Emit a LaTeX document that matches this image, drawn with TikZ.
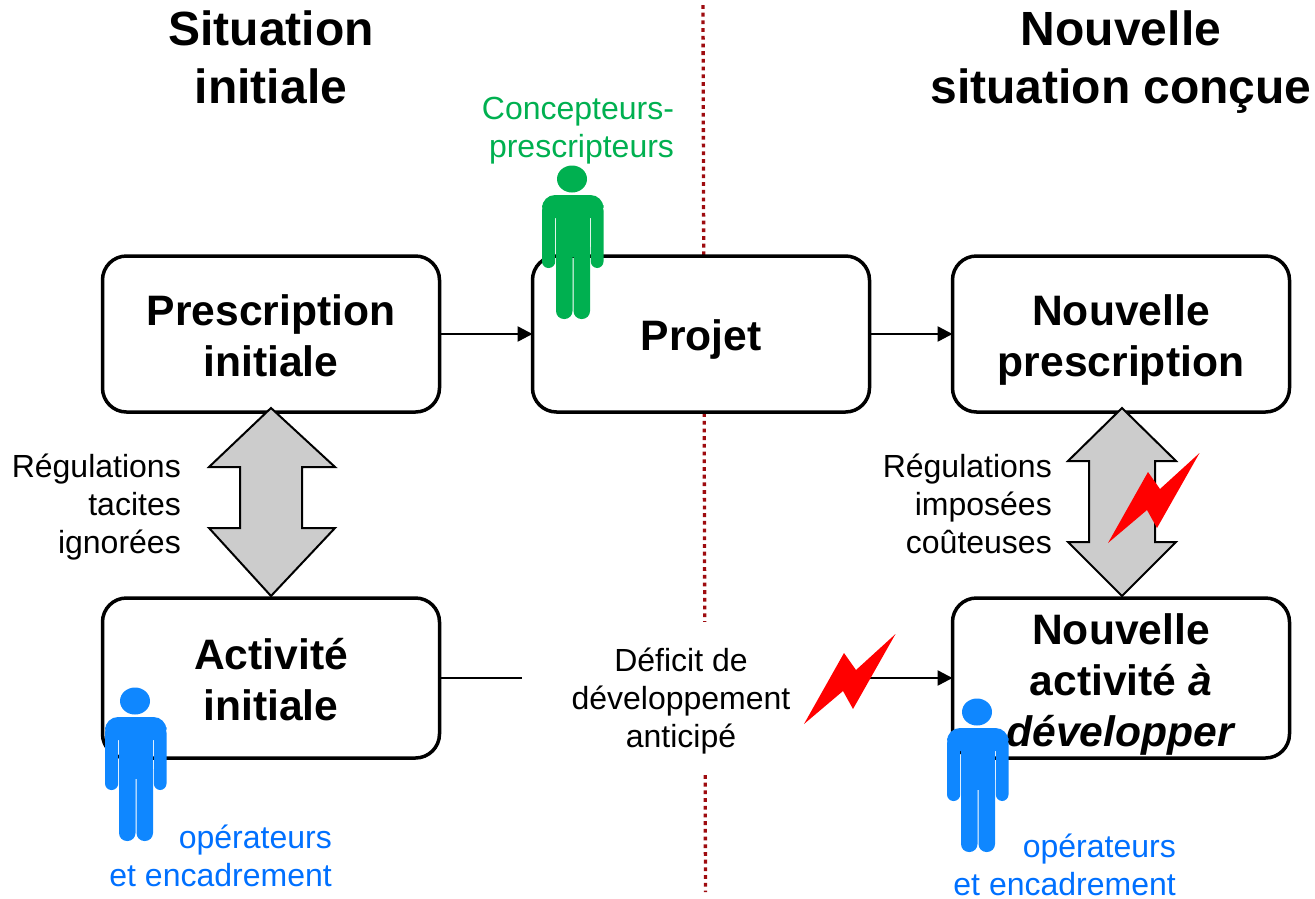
\documentclass[tikz,border=0pt]{standalone}
\usepackage{fontspec}
\setmainfont{Liberation Sans}
\usetikzlibrary{arrows.meta}
\definecolor{pgreen}{HTML}{00B050}
\definecolor{pblue}{HTML}{0F87FF}
\definecolor{tblue}{HTML}{0070FF}
\definecolor{dotred}{HTML}{9E0B0F}
\definecolor{agray}{HTML}{CCCCCC}
\newcommand\ls{\rule[-11pt]{0pt}{27pt}}
\newcommand\bxt{\rule{0pt}{42pt}}
\newcommand\bxb{\rule[-9pt]{0pt}{9pt}}
\newcommand\tlt{\rule{0pt}{38pt}}
\newcommand\tlb{\rule[-10pt]{0pt}{10pt}}
\tikzset{
  titlelab/.style={font=\fontsize{48}{58}\selectfont\bfseries,align=center,inner sep=0pt},
  boxnode/.style={draw=black,fill=white,line width=3.5pt,rounded corners=24pt,minimum width=337pt,
     inner sep=0pt,outer sep=0pt,align=center,font=\fontsize{42.6}{51}\selectfont\bfseries},
  lab/.style={font=\fontsize{32}{38}\selectfont,inner sep=0pt},
  link/.style={line width=2.5pt,-{Triangle[length=15pt,width=15pt]}},
  grayarrow/.style={draw=black,fill=agray,line width=2pt,line join=miter},
  person/.pic={
    \path[pic actions,draw=none] (0,0) ellipse [x radius=15,y radius=13.5];
    \path[pic actions,draw=none,rounded corners=13pt] (-30,16) rectangle (31.5,39);
    \path[pic actions,draw=none] (-16,20) rectangle (18,78);
    \path[pic actions,draw=none,rounded corners=6.5pt] (-30,25) rectangle (-16.8,89);
    \path[pic actions,draw=none,rounded corners=6.5pt] (18.8,25) rectangle (31.5,89);
    \path[pic actions,draw=none,rounded corners=8pt] (-16,60) rectangle (0.5,140);
    \path[pic actions,draw=none,rounded corners=8pt] (1.5,60) rectangle (18,140);
  },
  bolt/.pic={
    \fill[red] (0,0) -- (39,-33) -- (49,-15) -- (91.5,-90) -- (52,-54) -- (40,-71) -- cycle;
  }
}
\begin{document}
\begin{tikzpicture}[x=1pt,y=-1pt]
\useasboundingbox (0,0) rectangle (1315,898);
% dotted separator
\coordinate (septop) at (703,5);
\coordinate (sepbot) at (705.5,892);
\draw[dotred,line width=3.3pt,dash pattern=on 3.8pt off 3.9pt] (septop) -- (sepbot);
% boxes
\node[boxnode,minimum height=156pt] (presc) at (271,334) {\bxt Prescription\\initiale\bxb};
\node[boxnode,minimum height=156pt] (projet) at (701,334) {\bxt Projet\bxb};
\node[boxnode,minimum height=156pt] (nprescr) at (1121,334) {\bxt Nouvelle\\prescription\bxb};
\node[boxnode,minimum height=160pt] (activ) at (271,678) {\bxt Activité\\initiale\bxb};
\node[boxnode,minimum height=160pt] (nactiv) at (1121,678) {\rule{0pt}{44pt}Nouvelle\\activité \textit{à}\\\textit{développer}\bxb};
% connectors
\draw[link] (presc) -- (projet);
\draw[link] (projet) -- (nprescr);
\draw[link] (activ) -- (nactiv);
% grey double arrows
\draw[grayarrow] (271,408) -- (335,467) -- (302,467) -- (302,528) -- (335,528) -- (271,596) -- (209,528) -- (240,528) -- (240,467) -- (209,467) -- cycle;
\draw[grayarrow] (1122,408) -- (1176,461) -- (1155,461) -- (1155,542) -- (1176,542) -- (1122,596) -- (1068,542) -- (1089,542) -- (1089,461) -- (1068,461) -- cycle;
% white patch behind the deficit label
\node[fill=white,minimum width=348pt,minimum height=153pt,inner sep=0pt] (patch) at (696,698) {};
% titles
\node[titlelab] (t1) at (271,60) {\tlt Situation\\initiale\tlb};
\node[titlelab] (t2) at (1121,60) {\tlt Nouvelle\\situation conçue\tlb};
% labels
\node[lab,align=center,text=pgreen] (concep) at (578,133) {\ls Concepteurs-\\\ls\hspace*{7pt}prescripteurs};
\node[lab,align=right,anchor=east] (rl) at (181,509) {\ls Régulations\\\ls tacites\\\ls ignorées};
\node[lab,align=right,anchor=east] (rr) at (1052,509) {\ls Régulations\\\ls imposées\\\ls coûteuses};
\node[lab,align=center] (def) at (681,703) {\ls Déficit de\\\ls développement\\\ls anticipé};
\node[lab,align=right,anchor=east,text=tblue] (op1) at (332,861) {\ls opérateurs\\\ls et encadrement};
\node[lab,align=right,anchor=east,text=tblue] (op2) at (1176,865) {\ls opérateurs\\et encadrement};
% bolts
\pic at (1108,543) {bolt};
\pic at (804,724) {bolt};
% people
\pic[fill=pgreen] at (572,179) {person};
\pic[fill=pblue] at (135,701) {person};
\pic[fill=pblue] at (977,712) {person};
\end{tikzpicture}
\end{document}
